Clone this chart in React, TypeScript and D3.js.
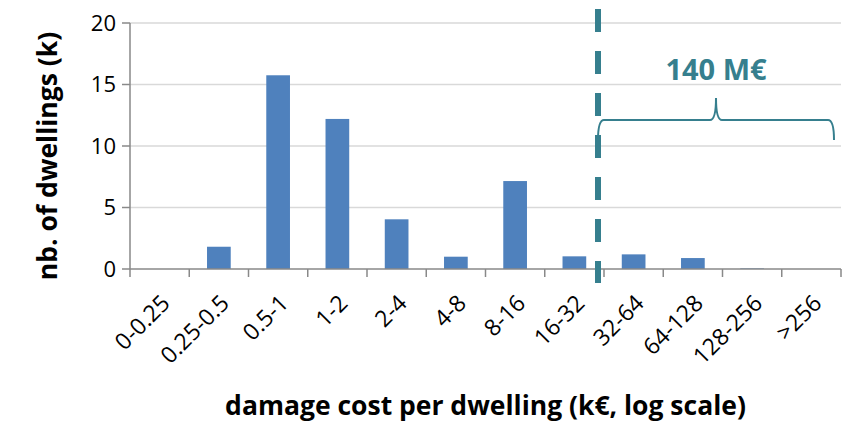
import React, { useEffect, useRef } from 'react';
import * as d3 from 'd3';

const categories = ['0-0.25', '0.25-0.5', '0.5-1', '1-2', '2-4', '4-8', '8-16', '16-32', '32-64', '64-128', '128-256', '>256'];
const dwellings = [0, 1.81, 15.75, 12.2, 4.04, 1.0, 7.15, 1.03, 1.19, 0.89, 0.05, 0];
const yTicks = [0, 5, 10, 15, 20];
const thresholdCategory = '32-64';
const braceLabel = '140 M€';

const W = 845;
const H = 424;
const FONT = "'Open Sans', 'Noto Sans', sans-serif";
const BAR = '#4F81BD';
const TEAL = '#367F8E';

export default function App() {
  const svgRef = useRef<SVGSVGElement>(null);

  useEffect(() => {
    document.body.style.margin = '0';
    if (!svgRef.current) return;
    const margin = { top: 23, right: 4, bottom: 155, left: 130 };

    const svg = d3.select(svgRef.current);
    svg.selectAll('*').remove();

    const x = d3.scaleBand<string>()
      .domain(categories)
      .range([margin.left, W - margin.right])
      .paddingInner(0.6)
      .paddingOuter(0.3);
    const step = x.step();
    const x0 = margin.left;

    const y = d3.scaleLinear().domain([0, 20]).range([H - margin.bottom, margin.top]);

    // Grid lines
    svg.append('g')
      .selectAll('line')
      .data(yTicks.filter(t => t > 0))
      .join('line')
      .attr('x1', x0)
      .attr('x2', W - margin.right)
      .attr('y1', d => y(d))
      .attr('y2', d => y(d))
      .attr('stroke', '#D9D9D9')
      .attr('stroke-width', 1.5);

    // Bars
    svg.append('g')
      .selectAll('rect')
      .data(categories)
      .join('rect')
      .attr('x', d => x(d)!)
      .attr('y', (d, i) => y(dwellings[i]))
      .attr('width', x.bandwidth())
      .attr('height', (d, i) => y(0) - y(dwellings[i]))
      .attr('fill', BAR);

    // Y axis
    const yAxis = svg.append('g');
    yAxis.append('line')
      .attr('x1', x0).attr('x2', x0)
      .attr('y1', y(20)).attr('y2', y(0))
      .attr('stroke', '#898989').attr('stroke-width', 1.5);
    yTicks.forEach(t => {
      yAxis.append('line')
        .attr('x1', x0 - 8).attr('x2', x0)
        .attr('y1', y(t)).attr('y2', y(t))
        .attr('stroke', '#898989').attr('stroke-width', 1.5);
      yAxis.append('text')
        .attr('x', x0 - 14)
        .attr('y', y(t))
        .attr('dy', '0.36em')
        .attr('text-anchor', 'end')
        .attr('font-family', FONT)
        .attr('font-size', 22)
        .attr('fill', '#000')
        .text(t);
    });

    // X axis
    const xAxis = svg.append('g');
    xAxis.append('line')
      .attr('x1', x0).attr('x2', W - margin.right)
      .attr('y1', y(0)).attr('y2', y(0))
      .attr('stroke', '#898989').attr('stroke-width', 1.5);
    d3.range(categories.length + 1).forEach(i => {
      const tx = x0 + i * step;
      xAxis.append('line')
        .attr('x1', tx).attr('x2', tx)
        .attr('y1', y(0)).attr('y2', y(0) + 8)
        .attr('stroke', '#898989').attr('stroke-width', 1.5);
    });
    categories.forEach(c => {
      const cx = x(c)! + x.bandwidth() / 2;
      xAxis.append('text')
        .attr('transform', `translate(${cx + 6},${y(0) + 30}) rotate(-45)`)
        .attr('dy', '0.35em')
        .attr('text-anchor', 'end')
        .attr('font-family', FONT)
        .attr('font-size', 23)
        .attr('fill', '#000')
        .text(c);
    });

    // Axis titles
    svg.append('text')
      .attr('x', (x0 + W - margin.right) / 2)
      .attr('y', 415)
      .attr('text-anchor', 'middle')
      .attr('font-family', FONT)
      .attr('font-weight', 'bold')
      .attr('font-size', 26.5)
      .attr('fill', '#000')
      .text('damage cost per dwelling (k€, log scale)');

    svg.append('text')
      .attr('transform', `translate(57,156) rotate(-90)`)
      .attr('text-anchor', 'middle')
      .attr('font-family', FONT)
      .attr('font-weight', 'bold')
      .attr('font-size', 26.5)
      .attr('fill', '#000')
      .text('nb. of dwellings (k)');

    // Threshold dashed line
    const lx = x0 + categories.indexOf(thresholdCategory) * step - 6;
    svg.append('line')
      .attr('x1', lx).attr('x2', lx)
      .attr('y1', 9).attr('y2', 283)
      .attr('stroke', TEAL)
      .attr('stroke-width', 6)
      .attr('stroke-dasharray', '23,19');

    // Brace
    const bx1 = lx;
    const bx2 = W - margin.right - 7;
    const bm = (bx1 + bx2) / 2;
    const yTop = 120;
    const yEnd = 140;
    const yTip = 98;
    const r = 6;
    const path = d3.path();
    path.moveTo(bx1, yEnd);
    path.quadraticCurveTo(bx1, yTop, bx1 + r, yTop);
    path.lineTo(bm - r, yTop);
    path.quadraticCurveTo(bm, yTop, bm, yTip);
    path.quadraticCurveTo(bm, yTop, bm + r, yTop);
    path.lineTo(bx2 - r, yTop);
    path.quadraticCurveTo(bx2, yTop, bx2, yEnd);
    svg.append('path')
      .attr('d', path.toString())
      .attr('fill', 'none')
      .attr('stroke', TEAL)
      .attr('stroke-width', 2);

    svg.append('text')
      .attr('x', bm)
      .attr('y', 80)
      .attr('text-anchor', 'middle')
      .attr('font-family', FONT)
      .attr('font-weight', 'bold')
      .attr('font-size', 29)
      .attr('fill', TEAL)
      .text(braceLabel);
  }, []);

  return <svg ref={svgRef} width={W} height={H} style={{ display: 'block', background: '#fff' }} />;
}
